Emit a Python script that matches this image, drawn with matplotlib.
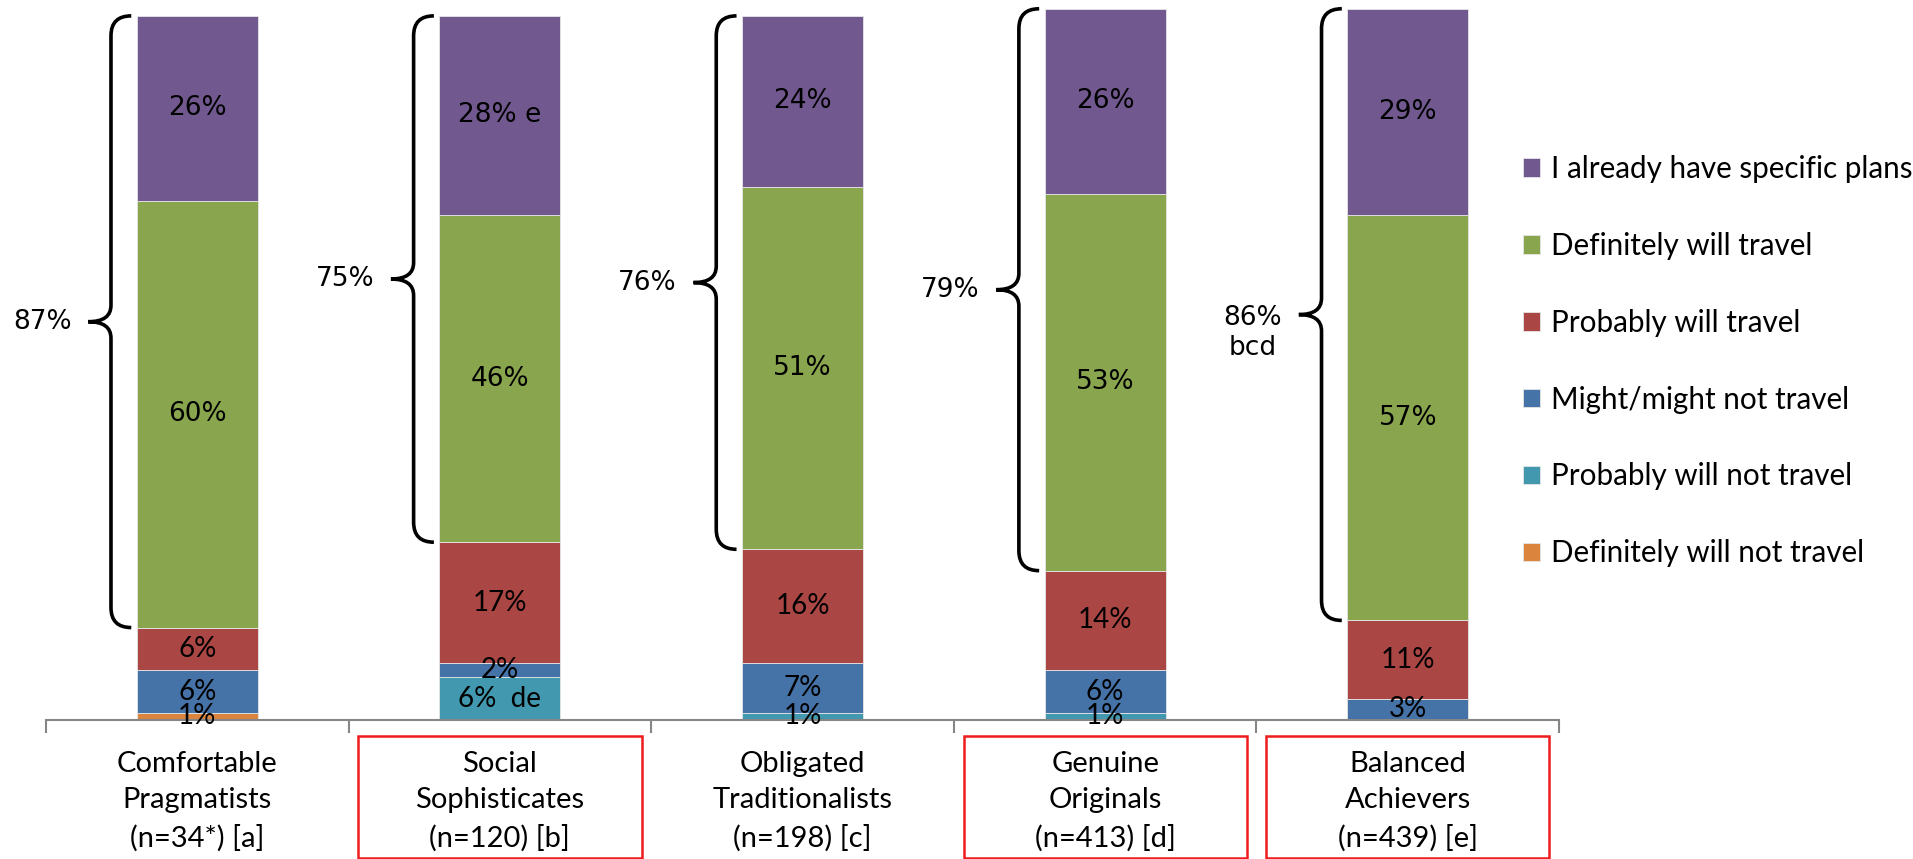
import numpy as np
import matplotlib
matplotlib.use("Agg")
import matplotlib.pyplot as plt
from matplotlib.path import Path
from matplotlib.patches import PathPatch, Rectangle

# segments (bottom to top) for each segment group, in percent
groups = ["Comfortable\nPragmatists\n(n=34*) [a]",
          "Social\nSophisticates\n(n=120) [b]",
          "Obligated\nTraditionalists\n(n=198) [c]",
          "Genuine\nOriginals\n(n=413) [d]",
          "Balanced\nAchievers\n(n=439) [e]"]
boxed = [False, True, False, True, True]

series = ["Definitely will not travel", "Probably will not travel",
          "Might/might not travel", "Probably will travel",
          "Definitely will travel", "I already have specific plans"]
def_not = [1, 0, 0, 0, 0]
prob_not = [0, 6, 1, 1, 0]
might = [6, 2, 7, 6, 3]
prob_will = [6, 17, 16, 14, 11]
def_will = [60, 46, 51, 53, 57]
plans = [26, 28, 24, 26, 29]

# text shown on each segment ('' = no label)
lab_def_not = ["1%", "", "", "", ""]
lab_prob_not = ["", "6%  de", "1%", "1%", ""]
lab_might = ["6%", "2%", "7%", "6%", "3%"]
lab_prob_will = ["6%", "17%", "16%", "14%", "11%"]
lab_def_will = ["60%", "46%", "51%", "53%", "57%"]
lab_plans = ["26%", "28% e", "24%", "26%", "29%"]

# top-two-box totals written next to the braces
top2_labels = ["87%", "75%", "76%", "79%", "86%\nbcd"]

colors = ["#DB843D", "#4198AF", "#4572A7", "#AA4643", "#89A54E", "#71588F"]

values = [def_not, prob_not, might, prob_will, def_will, plans]
labels = [lab_def_not, lab_prob_not, lab_might, lab_prob_will, lab_def_will, lab_plans]

calibri_like = "Lato"
wide = "DejaVu Sans"

fig = plt.figure(figsize=(19.13, 8.59), dpi=100)
ax = fig.add_axes([0.024, 0.1618, 0.791, 0.828])

x = np.arange(len(groups))
bottom = np.zeros(len(groups))
handles = []
for k, (vals, labs, col, name) in enumerate(zip(values, labels, colors, series)):
    vals = np.array(vals, dtype=float)
    bars = ax.bar(x, vals, width=0.4, bottom=bottom, color=col,
                  edgecolor="#e6e6e6", linewidth=0.6, label=name)
    handles.append(bars)
    font = wide if k >= 4 else calibri_like
    size = 19 if k >= 4 else 20
    for i, t in enumerate(labs):
        if t:
            ax.text(x[i], bottom[i] + vals[i] / 2, t, ha="center", va="center",
                    fontsize=size, family=font, color="black", clip_on=False)
    bottom += vals


def brace(ax, xc, y0, y1, text):
    x_end = xc - 0.218
    x_mid = xc - 0.285
    x_tip = xc - 0.36
    ym = (y0 + y1) / 2
    d_end = 2.8
    d_tip = 2.3
    verts = [(x_end, y1), (x_mid, y1), (x_mid, y1 - d_end),
             (x_mid, ym + d_tip), (x_mid, ym), (x_tip, ym),
             (x_mid, ym), (x_mid, ym - d_tip),
             (x_mid, y0 + d_end), (x_mid, y0), (x_end, y0)]
    codes = [Path.MOVETO, Path.CURVE3, Path.CURVE3,
             Path.LINETO, Path.CURVE3, Path.CURVE3,
             Path.CURVE3, Path.CURVE3,
             Path.LINETO, Path.CURVE3, Path.CURVE3]
    ax.add_patch(PathPatch(Path(verts, codes), facecolor="none",
                           edgecolor="black", lw=2.6, clip_on=False))
    # first line of the label sits level with the brace tip
    n_lines = text.count("\n") + 1
    ax.annotate(text, (x_tip - 0.055, ym), xytext=(0, -13.5 * (n_lines - 1)),
                textcoords="offset points", ha="right", va="center",
                fontsize=19, family=wide, multialignment="center",
                annotation_clip=False)


top = np.array(plans) + np.array(def_will) + np.array(prob_will) + \
    np.array(might) + np.array(prob_not) + np.array(def_not)
green_base = top - np.array(plans) - np.array(def_will)
for i in range(len(groups)):
    brace(ax, x[i], green_base[i], top[i], top2_labels[i])

ax.set_xlim(-0.5, len(groups) - 0.5)
ax.set_ylim(0, 100)
for s in ["top", "right", "left"]:
    ax.spines[s].set_visible(False)
ax.spines["bottom"].set_color("#868686")
ax.spines["bottom"].set_linewidth(1.5)
ax.set_yticks([])

ax.set_xticks(x)
ax.set_xticklabels(groups, fontsize=21, family=calibri_like, linespacing=1.5)
ax.tick_params(axis="x", which="major", length=0, pad=22)
ax.set_xticks(np.arange(-0.5, len(groups), 1.0), minor=True)
ax.tick_params(axis="x", which="minor", length=9, width=1.5, color="#868686",
               direction="out")

# red outlines around the highlighted segments
for i, b in enumerate(boxed):
    if b:
        ax.add_patch(Rectangle((i - 0.468, -0.194), 0.936, 0.172,
                               transform=ax.get_xaxis_transform(),
                               facecolor="none", edgecolor="#ee1c1c", lw=1.8,
                               clip_on=False))

leg = fig.legend(handles=handles[::-1], loc="upper left",
                 bbox_to_anchor=(0.796, 0.82), frameon=False, borderpad=0,
                 borderaxespad=0,
                 prop={"family": calibri_like, "size": 21.3},
                 handlelength=0.6, handleheight=0.6, handletextpad=0.35,
                 labelspacing=1.655)

fig.savefig("out.png", dpi=100)
